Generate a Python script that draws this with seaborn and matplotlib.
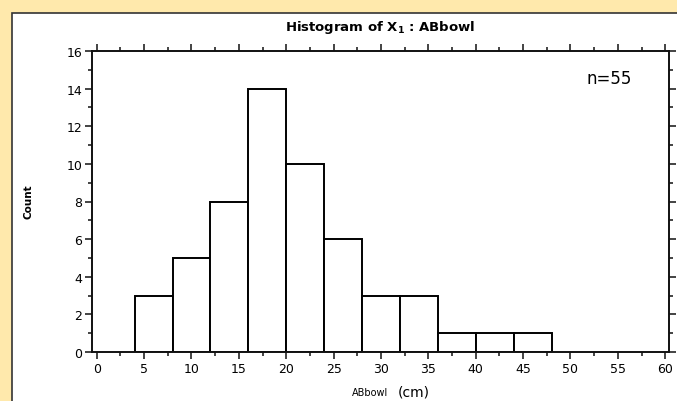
import numpy as np
import pandas as pd
import matplotlib
matplotlib.use('Agg')
import matplotlib.pyplot as plt
import seaborn as sns
from matplotlib.patches import Rectangle
from matplotlib.ticker import MultipleLocator

# histogram of ABbowl, bins of 4 cm
bin_edges = [4, 8, 12, 16, 20, 24, 28, 32, 36, 40, 44, 48]
counts = [3, 5, 8, 14, 10, 6, 3, 3, 1, 1, 1]
bin_mids = [(a + b) / 2 for a, b in zip(bin_edges[:-1], bin_edges[1:])]
n_total = sum(counts)

df = pd.DataFrame({'ABbowl': bin_mids, 'count': counts})

sns.set_style('ticks')
plt.rcParams['font.family'] = ['DejaVu Sans']
plt.rcParams['text.color'] = 'black'
plt.rcParams['xtick.labelcolor'] = 'black'
plt.rcParams['ytick.labelcolor'] = 'black'

fig = plt.figure(figsize=(6.77, 4.02), dpi=100)
fig.patch.set_facecolor('#FFE9AC')

# white panel with dark border (runs off right / bottom)
panel = Rectangle((12 / 677, -0.05), 1.0, (402 - 14) / 402 + 0.05,
                  transform=fig.transFigure, facecolor='white',
                  edgecolor='#333333', linewidth=1.2, zorder=-10)
fig.patches.append(panel)

ax = fig.add_axes([92 / 677, 49 / 402, (669 - 92) / 677, (353 - 52) / 402])
ax.set_facecolor('white')

sns.histplot(data=df, x='ABbowl', weights='count', bins=bin_edges, ax=ax,
             color='white', edgecolor='black', linewidth=1.4, alpha=1)

ax.set_xlim(-0.5, 60.4)
ax.set_ylim(0, 16)
ax.xaxis.set_major_locator(MultipleLocator(5))
ax.xaxis.set_minor_locator(MultipleLocator(2.5))
ax.yaxis.set_major_locator(MultipleLocator(2))
ax.yaxis.set_minor_locator(MultipleLocator(1))
ax.tick_params(which='both', direction='out', top=True, right=True,
               labeltop=False, labelright=False, width=1.1, color='#111111')
ax.tick_params(which='major', length=5, labelsize=9, pad=2,
               labelcolor='black')
ax.tick_params(which='minor', length=3)

for s in ax.spines.values():
    s.set_linewidth(1.4)
    s.set_color('#111111')

ax.set_xlabel('')
ax.set_ylabel('')

fig.text(380 / 677, 1 - 28 / 402, 'Histogram of X$_\\mathbf{1}$ : ABbowl',
         ha='center', va='center', fontsize=9.5, fontweight='bold',
         color='black')
fig.text(28 / 677, 1 - 202 / 402, 'Count', rotation=90, ha='center',
         va='center', fontsize=7.5, fontweight='bold', color='black')
fig.text(352 / 677, 1 - 393 / 402, 'ABbowl', ha='left', va='center',
         fontsize=7, color='black')
fig.text(398 / 677, 1 - 393 / 402, '(cm)', ha='left', va='center',
         fontsize=10, color='black')
ax.text(0.935, 0.91, f'n={n_total}', transform=ax.transAxes, ha='right',
        va='center', fontsize=12, color='black')

fig.savefig('out.png', dpi=100, facecolor=fig.get_facecolor())
